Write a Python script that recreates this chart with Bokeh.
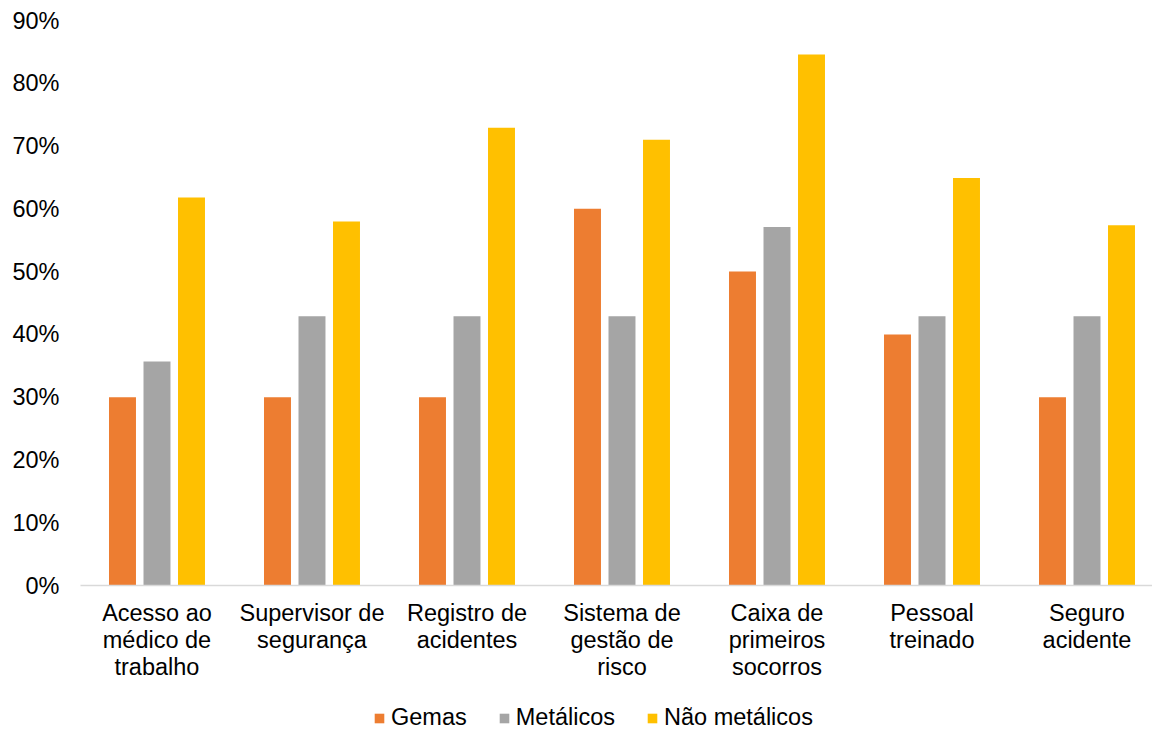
from bokeh.plotting import figure
from bokeh.layouts import column
from bokeh.models import ColumnDataSource, FixedTicker, NumeralTickFormatter, Range1d, Legend, LegendItem
from bokeh.embed import file_html
from bokeh.resources import INLINE

categories = ["Acesso ao\nmédico de\ntrabalho", "Supervisor de\nsegurança", "Registro de\nacidentes",
              "Sistema de\ngestão de\nrisco", "Caixa de\nprimeiros\nsocorros", "Pessoal\ntreinado",
              "Seguro\nacidente"]
series_names = ["Gemas", "Metálicos", "Não metálicos"]
gemas = [0.30, 0.30, 0.30, 0.60, 0.50, 0.40, 0.30]
metalicos = [0.357, 0.429, 0.429, 0.429, 0.571, 0.429, 0.429]
nao_metalicos = [0.618, 0.580, 0.729, 0.710, 0.846, 0.649, 0.574]
y_ticks = [0.0, 0.1, 0.2, 0.3, 0.4, 0.5, 0.6, 0.7, 0.8, 0.9]

colors = ["#ED7D31", "#A5A5A5", "#FFC000"]
offsets = [-0.2226, 0.0, 0.2226]
bar_w = 0.174
FONT = "Liberation Sans"

p = figure(frame_width=1072, frame_height=565, output_backend="svg", toolbar_location=None,
           x_range=Range1d(-0.4935, 6.4226), y_range=Range1d(0, 0.9),
           min_border_left=80, min_border_top=20, min_border_right=0, min_border_bottom=115)
p.outline_line_color = None
p.xgrid.visible = False
p.ygrid.visible = False

xs = list(range(len(categories)))
for vals, col, off in zip([gemas, metalicos, nao_metalicos], colors, offsets):
    src = ColumnDataSource(dict(x=[i + off for i in xs], top=vals))
    p.vbar(x="x", top="top", width=bar_w, source=src, fill_color=col, line_color=None)

# y axis
p.yaxis.ticker = FixedTicker(ticks=y_ticks)
p.yaxis.formatter = NumeralTickFormatter(format="0%")
p.yaxis.axis_line_color = None
p.yaxis.major_tick_line_color = None
p.yaxis.minor_tick_line_color = None
p.yaxis.major_tick_out = 0
p.yaxis.major_tick_in = 0
p.yaxis.major_label_standoff = 21
p.yaxis.major_label_text_font = FONT
p.yaxis.major_label_text_font_size = "23.5px"
p.yaxis.major_label_text_color = "#000000"

# x axis
p.xaxis.ticker = FixedTicker(ticks=xs)
p.xaxis.major_label_overrides = {i: c for i, c in enumerate(categories)}
p.xaxis.axis_line_color = "#D9D9D9"
p.xaxis.axis_line_width = 1.5
p.xaxis.major_tick_line_color = None
p.xaxis.minor_tick_line_color = None
p.xaxis.major_tick_out = 0
p.xaxis.major_tick_in = 0
p.xaxis.major_label_standoff = 14
p.xaxis.major_label_text_font = FONT
p.xaxis.major_label_text_font_size = "23.5px"
p.xaxis.major_label_text_color = "#000000"
p.xaxis.major_label_text_line_height = 1.045

# legend in its own strip below the chart (proxy renderers of zero height)
lg = figure(width=1152, height=33, output_backend="svg", toolbar_location=None,
            x_range=Range1d(0, 1), y_range=Range1d(0, 1), min_border=0,
            x_axis_location=None, y_axis_location=None)
lg.outline_line_color = None
lg.grid.visible = False
items = []
for col, name in zip(colors, series_names):
    r = lg.vbar(x=[0.0], top=[0.0], bottom=[0.0], width=0.0, fill_color=col, line_color=None)
    items.append(LegendItem(label=name, renderers=[r]))
legend = Legend(items=items, orientation="horizontal", location=(293, 2),
                label_text_font=FONT, label_text_font_size="23.5px", label_text_color="#000000",
                glyph_width=12, glyph_height=12, label_standoff=6, spacing=31,
                border_line_color=None, background_fill_alpha=0, padding=0, margin=0)
lg.add_layout(legend, "center")

layout = column(p, lg, spacing=0)
open("out.html", "w").write(file_html(layout, INLINE))
